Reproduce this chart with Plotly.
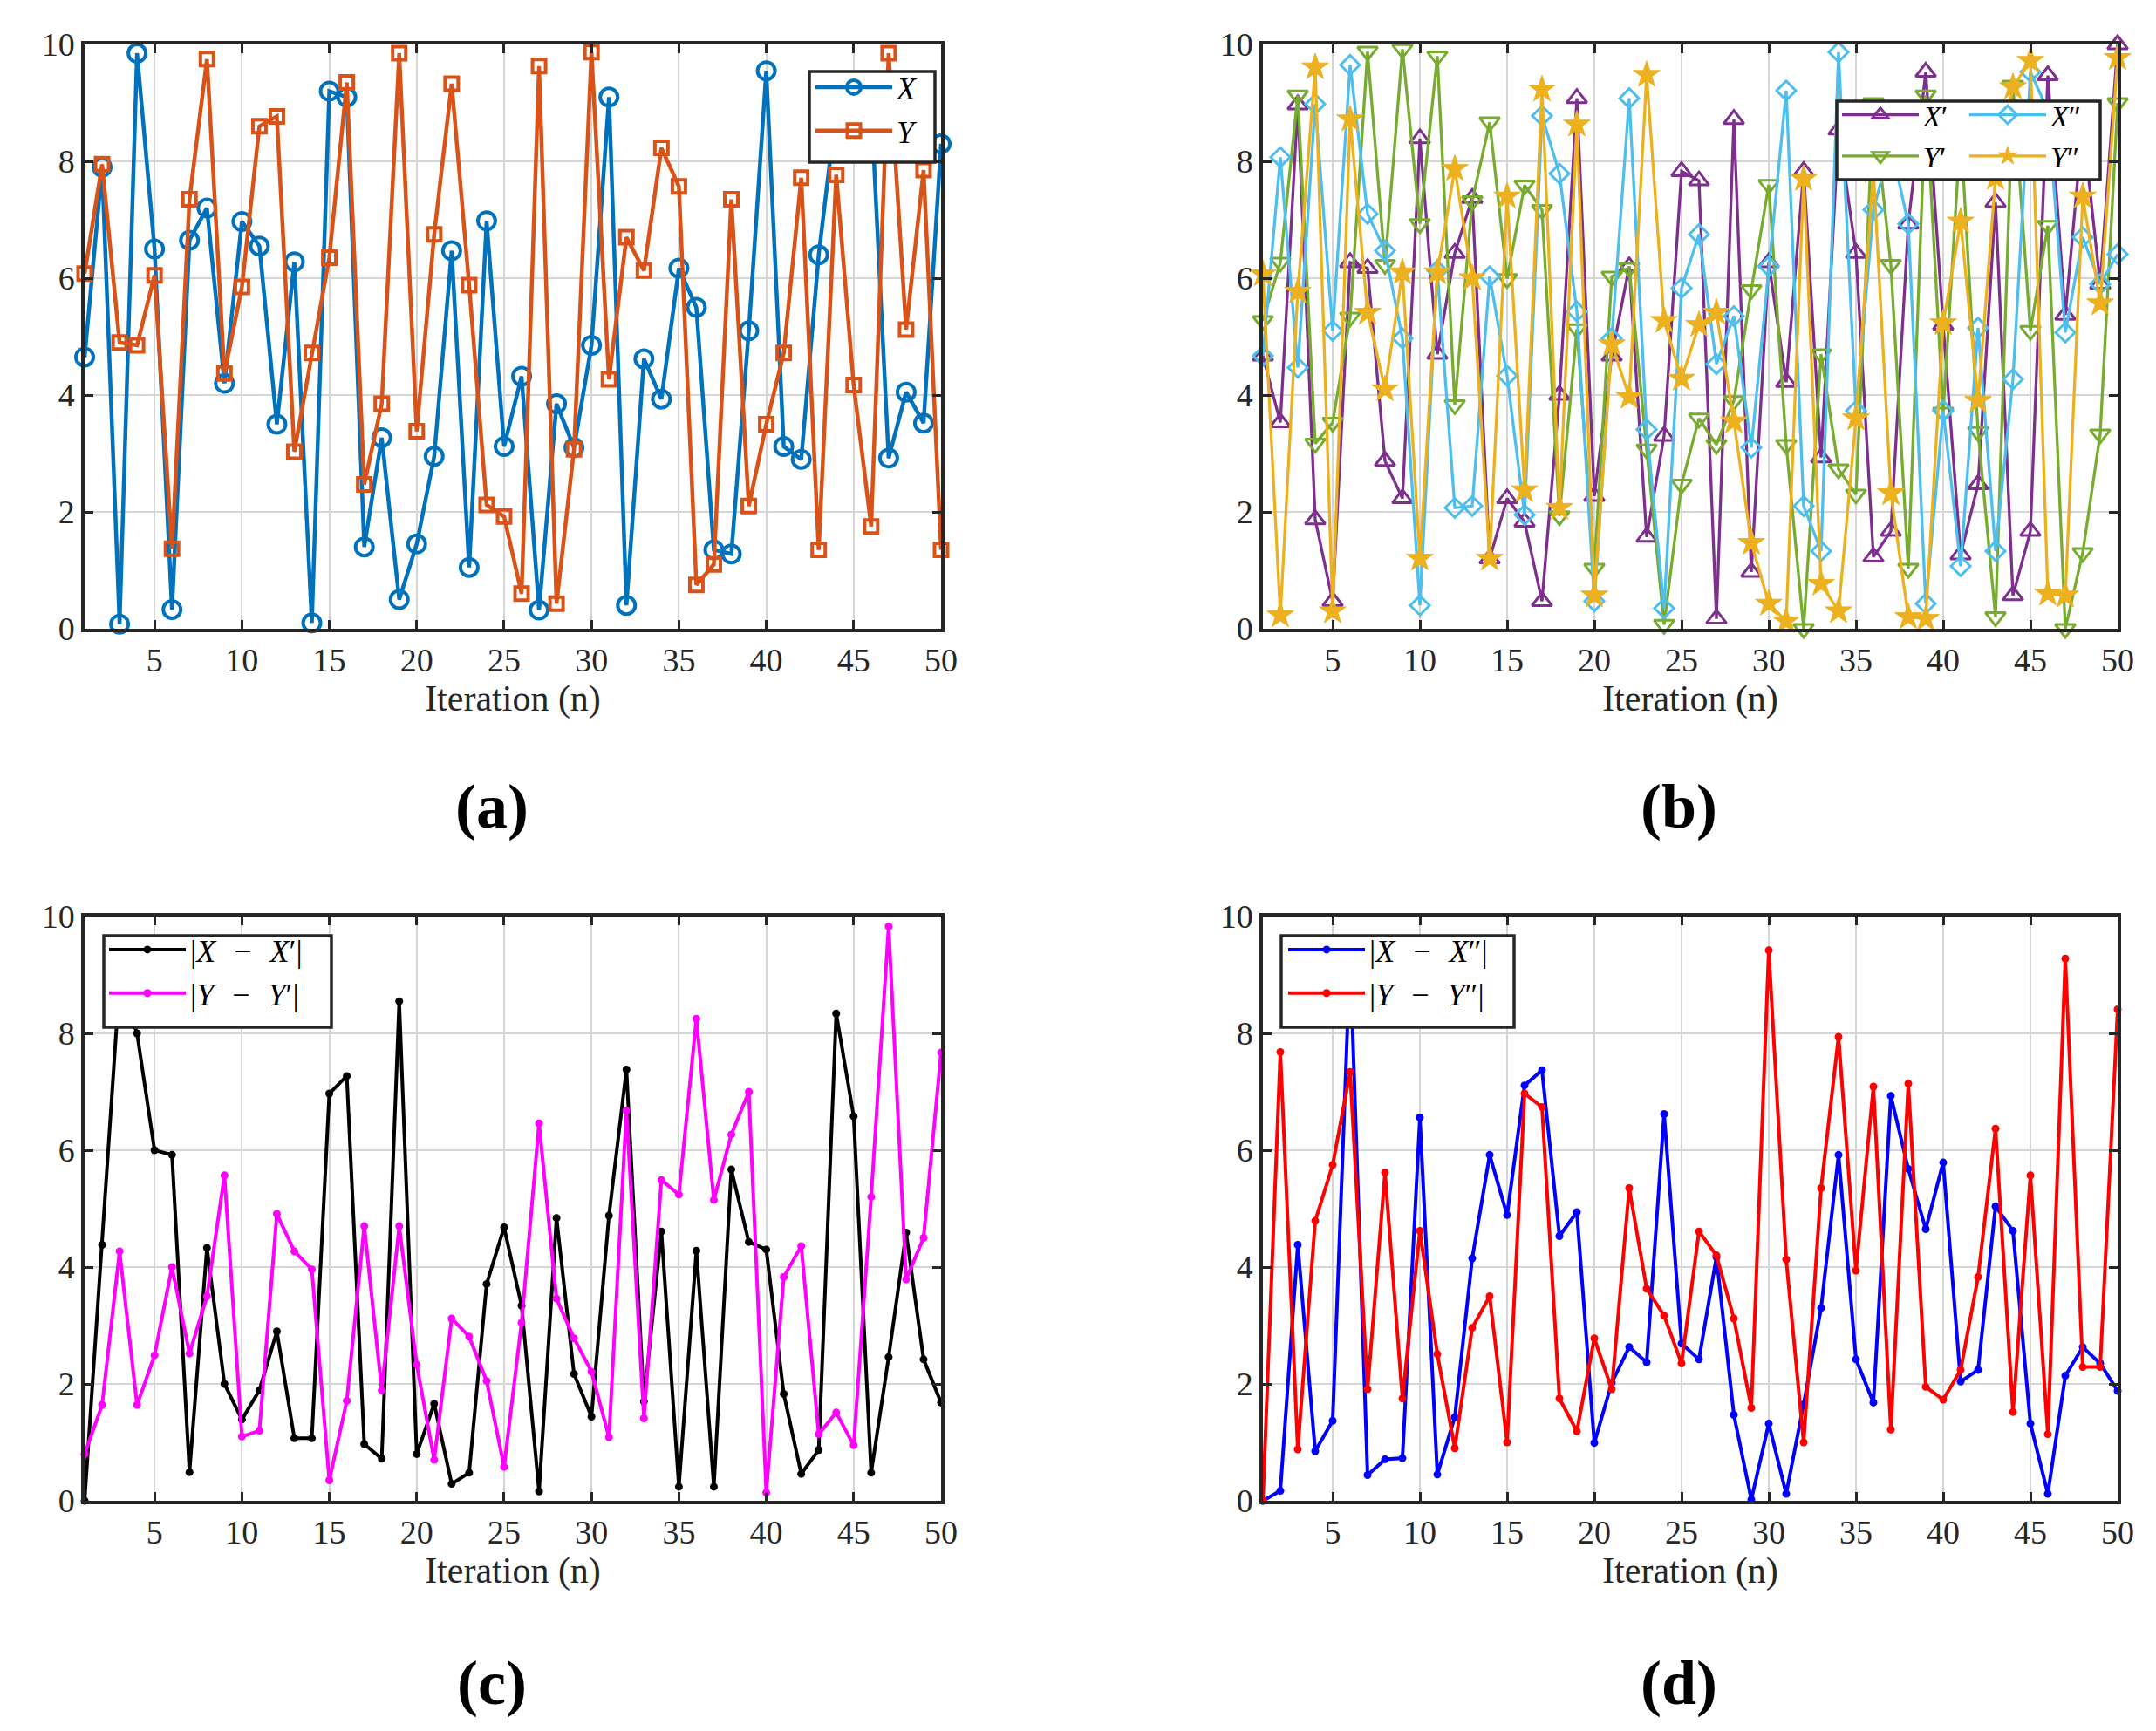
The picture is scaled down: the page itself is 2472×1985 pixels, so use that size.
import plotly.graph_objects as go

# iteration index
n = list(range(1, 51))

# panel (a)
x_a = [4.65, 7.90, 0.08, 9.85, 6.50, 0.33, 6.65, 7.20, 4.20, 6.97, 6.55, 3.50, 6.28, 0.10, 9.20, 9.10, 1.40, 3.27, 0.50, 1.45,
       2.95, 6.47, 1.05, 6.98, 3.12, 4.32, 0.32, 3.85, 3.10, 4.85, 9.10, 0.40, 4.62, 3.93, 6.17, 5.50, 1.35, 1.28, 5.10, 9.55,
       3.12, 2.90, 6.40, 8.90, 8.22, 8.99, 2.92, 4.05, 3.52, 8.30]
y_a = [6.08, 7.95, 4.90, 4.85, 6.05, 1.37, 7.35, 9.75, 4.37, 5.85, 8.60, 8.77, 3.03, 4.72, 6.35, 9.35, 2.47, 3.85, 9.85, 3.38,
       6.75, 9.33, 5.88, 2.12, 1.92, 0.60, 9.63, 0.43, 3.07, 9.87, 4.27, 6.70, 6.13, 8.23, 7.57, 0.75, 1.10, 7.35, 2.10, 3.50,
       4.72, 7.72, 1.35, 7.77, 4.17, 1.75, 9.85, 5.12, 7.85, 1.35]

# panel (b)
x_p = [4.67, 3.53, 8.97, 1.87, 0.47, 6.27, 6.17, 2.87, 2.23, 8.39, 4.70, 6.43, 7.37, 1.20, 2.23, 1.83, 0.47, 4.00, 9.08, 2.27,
       4.67, 6.20, 1.57, 3.30, 7.83, 7.67, 0.17, 8.72, 0.97, 6.27, 4.22, 7.83, 2.93, 8.54, 6.43, 1.23, 1.67, 6.93, 9.53, 5.20,
       1.27, 2.47, 7.30, 0.57, 1.67, 9.47, 5.37, 8.64, 5.90, 10.0]
y_p = [5.27, 6.27, 9.13, 3.17, 3.53, 5.33, 9.88, 6.23, 9.92, 6.93, 9.80, 3.83, 7.32, 8.67, 5.99, 7.59, 7.17, 1.93, 5.13, 1.03,
       6.03, 6.18, 3.07, 0.07, 2.47, 3.60, 3.15, 3.90, 5.80, 7.60, 3.15, 0.00, 4.70, 2.73, 2.30, 9.00, 6.23, 1.03, 9.13, 3.70,
       8.55, 3.37, 0.20, 9.30, 5.10, 6.90, 0.00, 1.30, 3.33, 9.00]
x_pp = [4.67, 8.07, 4.47, 8.98, 5.10, 9.65, 7.10, 6.47, 4.97, 0.40, 6.13, 2.07, 2.10, 6.03, 4.33, 1.95, 8.78, 7.79, 5.43, 0.47,
        4.97, 9.08, 3.41, 0.35, 5.83, 6.75, 4.53, 5.35, 3.10, 6.20, 9.21, 2.10, 1.33, 9.87, 3.73, 7.17, 8.28, 6.93, 0.43, 3.73,
        1.07, 5.15, 1.33, 4.27, 9.53, 8.87, 5.07, 6.70, 5.90, 6.41]
y_pp = [6.07, 0.23, 5.77, 9.61, 0.30, 8.72, 5.41, 4.10, 6.10, 1.20, 6.10, 7.87, 6.00, 1.20, 7.40, 2.37, 9.23, 2.07, 8.63, 0.57,
        4.87, 3.97, 9.48, 5.27, 4.28, 5.20, 5.41, 3.55, 1.47, 0.43, 0.13, 7.70, 0.77, 0.30, 3.60, 7.84, 2.32, 0.20, 0.17, 5.23,
        6.97, 3.90, 7.72, 9.27, 9.72, 0.60, 0.57, 7.40, 5.57, 9.77]

# panel (c)
dx_p = [0.00, 4.38, 8.89, 8.00, 6.00, 5.92, 0.49, 4.33, 2.00, 1.39, 1.89, 2.90, 1.07, 1.07, 6.97, 7.27, 0.97, 0.72, 8.55, 0.80,
        1.66, 0.29, 0.48, 3.71, 4.68, 3.34, 0.16, 4.84, 2.17, 1.44, 4.88, 7.38, 1.70, 4.61, 0.24, 4.28, 0.24, 5.67, 4.43, 4.30,
        1.83, 0.46, 0.87, 8.34, 6.58, 0.48, 2.46, 4.59, 2.42, 1.68]
dy_p = [0.80, 1.64, 4.27, 1.64, 2.49, 4.00, 2.52, 3.50, 5.57, 1.10, 1.20, 4.91, 4.27, 3.96, 0.35, 1.71, 4.70, 1.89, 4.70, 2.33,
        0.70, 3.12, 2.81, 2.05, 0.58, 3.05, 6.46, 3.46, 2.78, 2.21, 1.09, 6.68, 1.41, 5.49, 5.24, 8.25, 5.15, 6.27, 7.00, 0.14,
        3.83, 4.36, 1.14, 1.51, 0.95, 5.20, 9.83, 3.79, 4.50, 7.67]

# panel (d)
dx_pp = [0.00, 0.17, 4.38, 0.85, 1.37, 9.32, 0.44, 0.71, 0.73, 6.56, 0.45, 1.43, 4.15, 5.92, 4.89, 7.11, 7.37, 4.53, 4.94, 0.99,
         2.02, 2.63, 2.37, 6.62, 2.69, 2.42, 4.17, 1.47, 0.02, 1.32, 0.12, 1.65, 3.30, 5.92, 2.42, 1.68, 6.93, 5.68, 4.65, 5.79,
         2.04, 2.24, 5.04, 4.62, 1.32, 0.12, 2.14, 2.63, 2.35, 1.88]
dy_pp = [0.00, 7.68, 0.88, 4.79, 5.75, 7.34, 1.91, 5.62, 1.75, 4.62, 2.51, 0.90, 2.96, 3.50, 1.00, 6.97, 6.74, 1.75, 1.19, 2.78,
         1.91, 5.35, 3.63, 3.17, 2.35, 4.61, 4.20, 3.12, 1.59, 9.42, 4.13, 1.00, 5.35, 7.94, 3.94, 7.09, 1.22, 7.14, 1.95, 1.73,
         2.24, 3.83, 6.37, 1.52, 5.57, 1.14, 9.28, 2.29, 2.29, 8.41]

x_ticks = [5, 10, 15, 20, 25, 30, 35, 40, 45, 50]
y_ticks = [0, 2, 4, 6, 8, 10]
panel_labels = ["(a)", "(b)", "(c)", "(d)"]

W, H = 2472, 1985
FONT = "Liberation Serif, Times New Roman, serif"
AX = "#262626"

fig = go.Figure()


def line(xs, ys, name, color, symbol, size, width, axis, legend, mlw=3):
    xa, ya = axis
    fig.add_trace(go.Scatter(
        x=xs, y=ys, name=name, mode="lines+markers", xaxis=xa, yaxis=ya, legend=legend,
        line=dict(color=color, width=width),
        marker=dict(symbol=symbol, size=size, color=color, line=dict(color=color, width=mlw)),
        cliponaxis=False,
    ))


sp = "\u2002\u200a"
line(n, x_a, "<i>X</i>", "#0072BD", "circle-open", 20, 4.5, ("x", "y"), "legend", mlw=4)
line(n, y_a, "<i>Y</i>", "#D95319", "square-open", 15, 4.5, ("x", "y"), "legend", mlw=4)

line(n, x_p, "<i>X</i>′", "#7E2F8E", "triangle-up-open", 20, 3.3, ("x2", "y2"), "legend2", mlw=3)
line(n, y_p, "<i>Y</i>′", "#77AC30", "triangle-down-open", 20, 3.3, ("x2", "y2"), "legend2", mlw=3)
line(n, x_pp, "<i>X</i>″", "#4DBEEE", "diamond-open", 17, 3.3, ("x2", "y2"), "legend3", mlw=3)
line(n, y_pp, "<i>Y</i>″", "#EDB120", "star", 23, 3.3, ("x2", "y2"), "legend3", mlw=1)

line(n, dx_p, f"|<i>X</i>{sp}−{sp}<i>X</i>′|", "#000000", "circle", 9, 4, ("x3", "y3"), "legend4", mlw=0)
line(n, dy_p, f"|<i>Y</i>{sp}−{sp}<i>Y</i>′|", "#FF00FF", "circle", 9, 4, ("x3", "y3"), "legend4", mlw=0)

line(n, dx_pp, f"|<i>X</i>{sp}−{sp}<i>X</i>″|", "#0000FF", "circle", 9, 4, ("x4", "y4"), "legend5", mlw=0)
line(n, dy_pp, f"|<i>Y</i>{sp}−{sp}<i>Y</i>″|", "#FF0000", "circle", 9, 4, ("x4", "y4"), "legend5", mlw=0)

left = [89 / W, 1071 / W]
right = [1440 / W, 2420 / W]
top = [1 - 713 / H, 1 - 43 / H]
bottom = [1 - 1713 / H, 1 - 1043 / H]


def xaxis(domain, anchor):
    return dict(domain=domain, anchor=anchor, range=[1, 50], tickvals=x_ticks,
                ticks="inside", ticklen=10, tickwidth=3, tickcolor=AX,
                showline=True, linecolor=AX, linewidth=3.5, mirror="ticks",
                showgrid=True, gridcolor="#d6d6d6", gridwidth=2, zeroline=False,
                automargin=False,
                tickfont=dict(family=FONT, size=38, color=AX),
                title=dict(text="Iteration (n)", font=dict(family=FONT, size=42, color=AX), standoff=8))


def yaxis(domain, anchor):
    return dict(domain=domain, anchor=anchor, range=[0, 10], tickvals=y_ticks,
                ticks="inside", ticklen=10, tickwidth=3, tickcolor=AX,
                showline=True, linecolor=AX, linewidth=3.5, mirror="ticks",
                showgrid=True, gridcolor="#d6d6d6", gridwidth=2, zeroline=False,
                automargin=False,
                tickfont=dict(family=FONT, size=38, color=AX))


def legend(x, y, size, itemwidth=88):
    # borderless legend; its frame is drawn as a shape below
    return dict(x=x / W, y=1 - y / H, xanchor="left", yanchor="top",
                bgcolor="rgba(0,0,0,0)", borderwidth=0,
                font=dict(family=FONT, size=size, color="black"),
                itemwidth=itemwidth, tracegroupgap=0)


fig.update_layout(
    width=W, height=H, margin=dict(l=0, r=0, t=0, b=0, autoexpand=False),
    plot_bgcolor="white", paper_bgcolor="white",
    xaxis=xaxis(left, "y"), yaxis=yaxis(top, "x"),
    xaxis2=xaxis(right, "y2"), yaxis2=yaxis(top, "x2"),
    xaxis3=xaxis(left, "y3"), yaxis3=yaxis(bottom, "x3"),
    xaxis4=xaxis(right, "y4"), yaxis4=yaxis(bottom, "x4"),
    legend=legend(922, 62, 36),
    legend2=legend(2099, 95, 34),
    legend3=legend(2245, 95, 34),
    legend4=legend(112, 1051, 36),
    legend5=legend(1464, 1051, 36),
    showlegend=True,
)

# legend frames
boxes = [(920, 1064, 74, 178), (2098, 2400, 108, 198), (111, 372, 1065, 1170), (1461, 1728, 1065, 1170)]
for x0, x1, y0, y1 in boxes:
    fig.add_shape(type="rect", xref="paper", yref="paper",
                  x0=x0 / W, x1=x1 / W, y0=1 - y1 / H, y1=1 - y0 / H,
                  line=dict(color=AX, width=3.5), fillcolor="white", layer="above")

label_pos = [(556, 917), (1917, 917), (556, 1922), (1917, 1922)]
for text, (px, py) in zip(panel_labels, label_pos):
    fig.add_annotation(text=f"<b>{text}</b>", xref="paper", yref="paper",
                       x=px / W, y=1 - py / H, xanchor="center", yanchor="middle",
                       showarrow=False, font=dict(family=FONT, size=72, color="black"))

fig.write_html("out.html")
